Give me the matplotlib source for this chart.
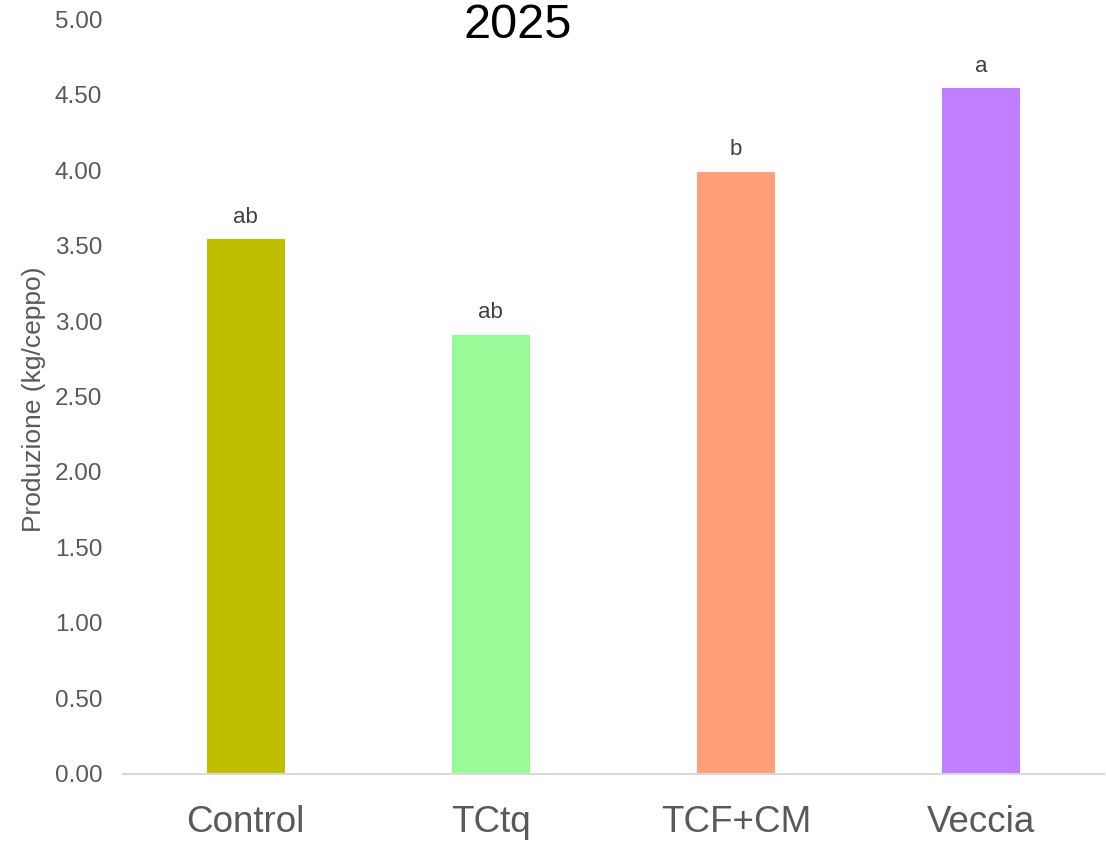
import matplotlib
matplotlib.use("Agg")
import matplotlib.pyplot as plt

categories = ["Control", "TCtq", "TCF+CM", "Veccia"]
values = [3.54, 2.91, 3.99, 4.54]
letters = ["ab", "ab", "b", "a"]
colors = ["#BFBF00", "#98FB98", "#FFA07A", "#BF7FFF"]
yticks = [0.0, 0.5, 1.0, 1.5, 2.0, 2.5, 3.0, 3.5, 4.0, 4.5, 5.0]

plt.rcParams["font.family"] = ["Liberation Sans", "DejaVu Sans"]

fig = plt.figure(figsize=(11.06, 8.42), dpi=100)
ax = fig.add_axes([0.1112, 0.0808, 0.887, 0.8966])

x = range(len(categories))
bars = ax.bar(x, values, width=0.318, color=colors, zorder=2)

for bar, lab in zip(bars, letters):
    ax.annotate(lab, (bar.get_x() + bar.get_width() / 2, bar.get_height()),
                xytext=(0, 8.5), textcoords="offset points",
                ha="center", va="bottom", fontsize=16, color="#404040")

ax.set_xlim(-0.5, len(categories) - 0.5)
ax.set_ylim(0, 5)
ax.set_yticks(yticks)
ax.set_yticklabels([f"{t:.2f}" for t in yticks])
ax.set_xticks(list(x))
ax.set_xticklabels(categories)

ax.tick_params(axis="y", length=0, labelsize=17.5, labelcolor="#595959", pad=15)
ax.tick_params(axis="x", length=0, labelsize=26.5, labelcolor="#595959", pad=22)

for side in ["top", "right", "left"]:
    ax.spines[side].set_visible(False)
ax.spines["bottom"].set_color("#D9D9D9")
ax.spines["bottom"].set_linewidth(1.5)

fig.text(0.031, 0.526, "Produzione (kg/ceppo)", rotation=90, ha="center", va="center",
         fontsize=19, color="#595959")
fig.text(0.468, 1 - 38 / 842, "2025", ha="center", va="baseline", fontsize=35, color="black")

fig.savefig("out.png", dpi=100)
